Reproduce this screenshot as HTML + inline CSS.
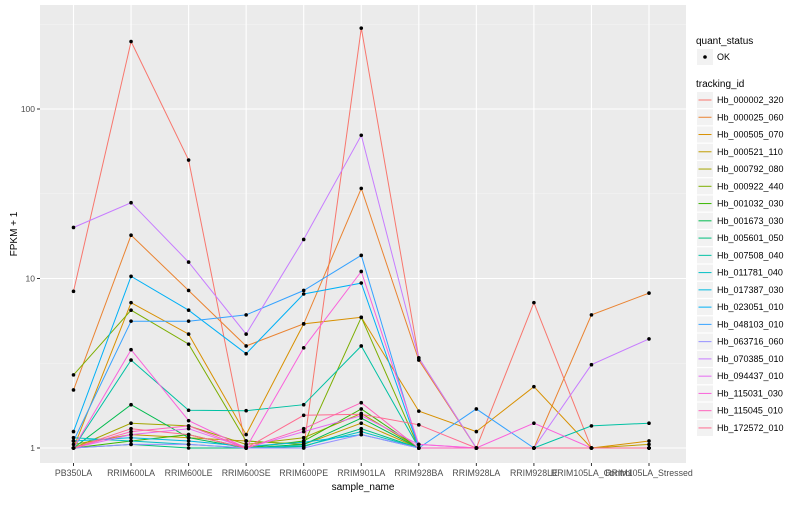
<!DOCTYPE html>
<html><head><meta charset="utf-8"><style>
body{margin:0;background:#fff;font-family:"Liberation Sans",sans-serif}
svg text{font-family:"Liberation Sans",sans-serif}
</style></head><body>
<svg id="chart" width="800" height="500" xmlns="http://www.w3.org/2000/svg">
<rect x="40" y="5" width="646" height="458" fill="#ebebeb"/>
<g id="grid"></g><g id="series"></g><g id="points"></g><g id="axes"></g><g id="legend"></g>
</svg>
<script>
const categories=["PB350LA","RRIM600LA","RRIM600LE","RRIM600SE","RRIM600PE","RRIM901LA","RRIM928BA","RRIM928LA","RRIM928LE","RRIM105LA_Control","RRIM105LA_Stressed"];
const trackingIds=["Hb_000002_320","Hb_000025_060","Hb_000505_070","Hb_000521_110","Hb_000792_080","Hb_000922_440","Hb_001032_030","Hb_001673_030","Hb_005601_050","Hb_007508_040","Hb_011781_040","Hb_017387_030","Hb_023051_010","Hb_048103_010","Hb_063716_060","Hb_070385_010","Hb_094437_010","Hb_115031_030","Hb_115045_010","Hb_172572_010"];
const colors=["#F8766D","#EA8331","#D89000","#C09B00","#A3A500","#7CAE00","#39B600","#00BB4E","#00BF7D","#00C1A3","#00BFC4","#00BAE0","#00B0F6","#35A2FF","#9590FF","#C77CFF","#E76BF3","#FA62DB","#FF62BC","#FF6C90"];
const s00=[8.4,250,50,1,1,300,3.4,1,7.2,1,1];
const s01=[2.2,18,8.5,4.0,5.4,34,3.3,1,1,6.1,8.2];
const s02=[1.0,7.2,4.7,1.2,5.4,5.9,1.65,1.25,2.3,1,1.1];
const s03=[1.05,1.2,1.15,1.1,1.05,1.4,1,1,1,1,1.05];
const s04=[1.0,1.4,1.35,1.05,1.15,1.6,1,1,1,1,1];
const s05=[2.7,6.5,4.1,1.1,1.05,5.9,1,1,1,1,1];
const s06=[1,1.1,1.2,1,1.1,1.7,1,1,1,1,1];
const s07=[1,1.8,1.15,1,1.05,1.5,1,1,1,1,1];
const s08=[1,1.05,1,1,1.02,1.3,1,1,1,1,1];
const s09=[1,3.3,1.67,1.66,1.8,4.0,1,1,1,1.35,1.4];
const s10=[1.15,1.1,1.05,1,1.03,1.25,1,1,1,1,1];
const s11=[1.1,1.15,1.1,1.02,1.08,1.2,1,1,1,1,1];
const s12=[1.25,10.3,6.5,3.6,8.1,9.4,1,1,1,1,1];
const s13=[1.1,5.6,5.6,6.1,8.5,13.7,1,1.7,1,1,1];
const s14=[1,1.05,1.05,1,1,1.2,1,1,1,1,1];
const s15=[20,28,12.5,4.7,17,70,3.4,1,1,3.1,4.4];
const s16=[1,1.2,1.3,1,1.25,1.55,1.05,1,1,1,1];
const s17=[1,3.8,1.45,1,3.9,11,1.05,1,1.4,1,1];
const s18=[1,1.25,1.35,1,1.3,1.85,1,1,1,1,1];
const s19=[1,1.3,1.2,1,1.56,1.58,1.37,1,1,1,1];
const seriesValues=[s00,s01,s02,s03,s04,s05,s06,s07,s08,s09,s10,s11,s12,s13,s14,s15,s16,s17,s18,s19];
const yTicks=[1,10,100];
const yTickLabels=["1","10","100"];

const NS="http://www.w3.org/2000/svg";
function mk(tag,attrs,parent){const e=document.createElementNS(NS,tag);for(const k in attrs)e.setAttribute(k,attrs[k]);parent.appendChild(e);return e;}
function xs(i){return 73.5+i*57.55;}
function ys(v){return 448-169.5*Math.log10(v);}
const grid=document.getElementById('grid'),ser=document.getElementById('series'),pts=document.getElementById('points'),axes=document.getElementById('axes'),leg=document.getElementById('legend');
[0.5,1.5,2.5].forEach(l=>{const y=ys(Math.pow(10,l));if(y>5&&y<463){const g=mk('line',{x1:40,x2:686,y1:y,y2:y,stroke:'#f5f5f5','stroke-width':0.6},grid);

}});
yTicks.forEach((t,i)=>{const y=ys(t);const g=mk('line',{x1:40,x2:686,y1:y,y2:y,stroke:'#fff','stroke-width':1.1},grid);


mk('line',{x1:37,x2:40,y1:y,y2:y,stroke:'#333','stroke-width':1},axes);
const tx=mk('text',{x:35,y:y+3,'text-anchor':'end','font-size':8.5,fill:'#4d4d4d'},axes);tx.textContent=yTickLabels[i];

});
categories.forEach((c,i)=>{const x=xs(i);const g=mk('line',{x1:x,x2:x,y1:5,y2:463,stroke:'#fff','stroke-width':1.1},grid);


mk('line',{x1:x,x2:x,y1:463,y2:466,stroke:'#333','stroke-width':1},axes);
const tx=mk('text',{x:x,y:476,'text-anchor':'middle','font-size':8.8,fill:'#4d4d4d'},axes);tx.textContent=c;

});
seriesValues.forEach((vals,s)=>{const d=vals.map((v,i)=>(i?'L':'M')+xs(i).toFixed(1)+' '+ys(v).toFixed(1)).join(' ');
const p=mk('path',{d:d,fill:'none',stroke:colors[s],'stroke-width':1},ser);


vals.forEach((v,i)=>{const c=mk('circle',{cx:xs(i),cy:ys(v),r:1.8,fill:'#000'},pts);

});});
let t=mk('text',{x:363,y:490,'text-anchor':'middle','font-size':10,fill:'#000'},axes);t.textContent='sample_name';


t=mk('text',{x:17,y:234,'text-anchor':'middle','font-size':10,fill:'#000',transform:'rotate(-90 17 234)'},axes);t.textContent='FPKM + 1';


t=mk('text',{x:696,y:44,'font-size':10,fill:'#000'},leg);t.textContent='quant_status';


let r=mk('rect',{x:697,y:49,width:16,height:16,fill:'#f2f2f2'},leg);


mk('circle',{cx:705,cy:57,r:1.8,fill:'#000'},leg);
t=mk('text',{x:717,y:60,'font-size':9,fill:'#000'},leg);t.textContent='OK';


t=mk('text',{x:696,y:87,'font-size':10,fill:'#000'},leg);t.textContent='tracking_id';


trackingIds.forEach((id,i)=>{const y=100+i*17.26;
const k=mk('rect',{x:697,y:y-8,width:16,height:16,fill:'#f2f2f2'},leg);


mk('line',{x1:698.5,x2:711.5,y1:y,y2:y,stroke:colors[i],'stroke-width':1},leg);
const tx=mk('text',{x:717,y:y+3,'font-size':9,fill:'#000'},leg);tx.textContent=id;

});
</script>
</body></html>
